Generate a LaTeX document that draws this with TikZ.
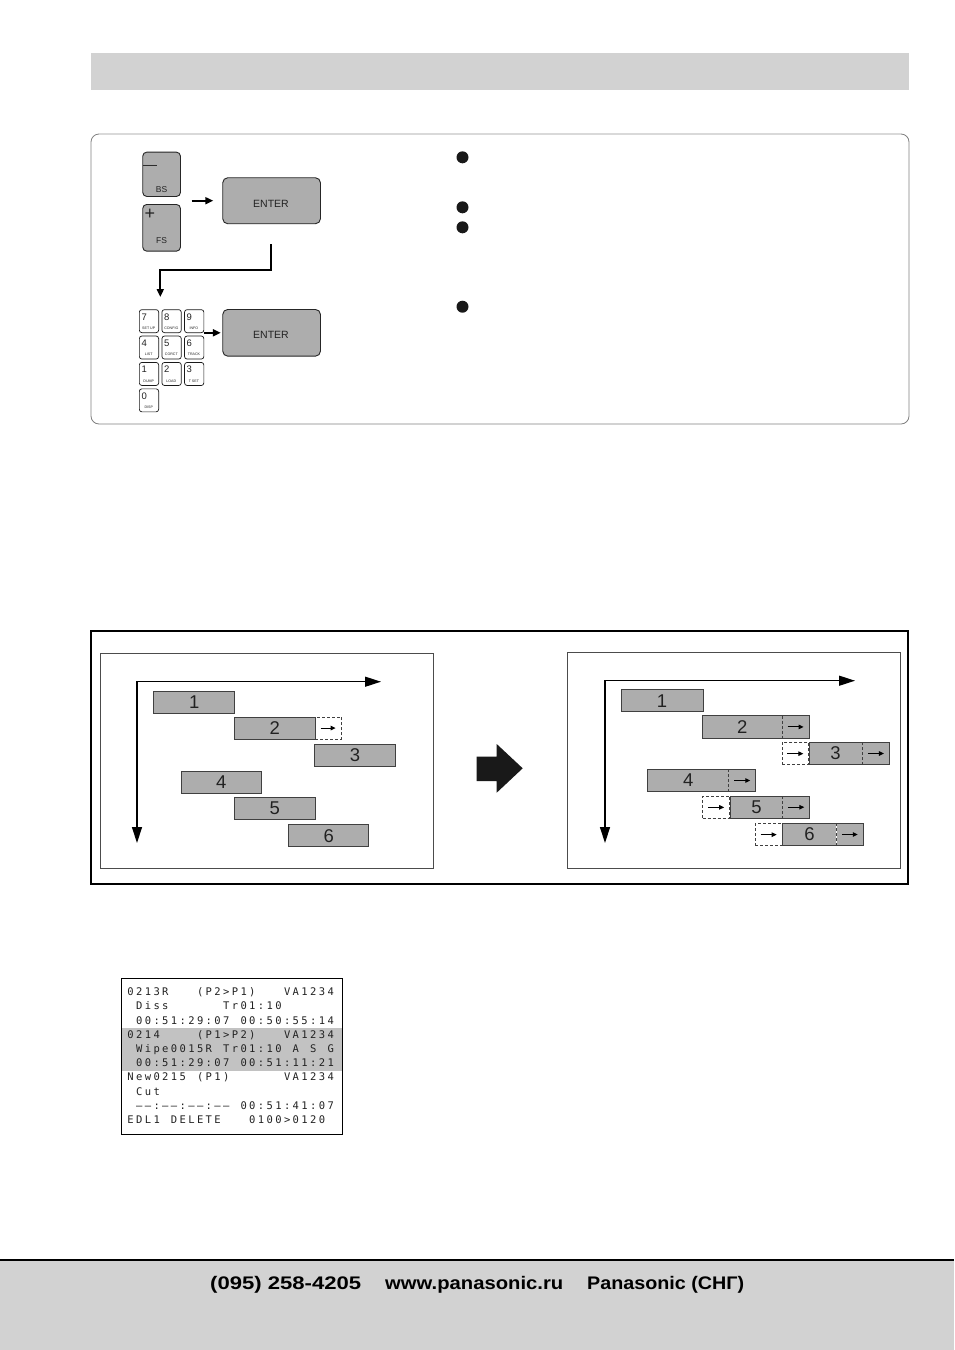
\documentclass[tikz,border=0pt]{standalone}
\usepackage{fontspec}
\usepackage{graphicx}
\setmainfont{Liberation Sans}
\newfontfamily\lcdfont[LetterSpace=22.7]{DejaVu Sans Mono}
\usetikzlibrary{arrows.meta}
\definecolor{hdrgray}{HTML}{D2D2D2}
\definecolor{halfgray}{HTML}{ADADAD}
\definecolor{bandgray}{HTML}{C2C2C2}
\definecolor{inkgray}{HTML}{222222}
\tikzset{
  gkey/.style={draw=black!85, fill=halfgray, rounded corners=4pt, line width=0.9pt, anchor=north west, inner sep=0pt},
  nkey/.style={draw=black!90, fill=white, rounded corners=2.5pt, line width=0.7pt, anchor=north west, inner sep=0pt, minimum width=19.3pt, minimum height=23pt},
  keynum/.style={anchor=base west, inner sep=0pt, font=\fontsize{9.5}{9.5}\selectfont, text=inkgray},
  keysub/.style={anchor=center, inner sep=0pt, font=\fontsize{3.6}{4}\selectfont, text=inkgray},
  keytxt/.style={anchor=center, inner sep=0pt, text=inkgray},
  karrow/.style={line width=1.8pt, -{Triangle[length=8pt,width=7pt]}},
  kline/.style={line width=1.8pt, -{Triangle[length=8pt,width=7pt]}},
  bullet/.style={circle, fill=black!90, minimum size=12pt, inner sep=0pt},
  bar/.style={draw=black!75, fill=halfgray, line width=0.7pt, minimum height=22pt, inner sep=0pt, anchor=north west, font=\fontsize{18.5}{20}\selectfont, text=inkgray},
  barfill/.style={fill=halfgray, minimum height=22pt, inner sep=0pt, anchor=north west, font=\fontsize{18.5}{20}\selectfont, text=inkgray},
  barline/.style={draw=black!75, line width=0.7pt},
  dashline/.style={draw=black!75, line width=0.7pt, dash pattern=on 3pt off 2pt},
  dbox/.style={dashline, fill=white, minimum height=22pt, inner sep=0pt, anchor=north west},
  sarrow/.style={line width=1pt, -{Triangle[length=5pt,width=4.5pt]}},
  axisline/.style={line width=1.3pt, arrows={Triangle[length=16pt,width=10pt]-Triangle[length=16pt,width=10pt]}},
  lcd/.style={anchor=base west, inner sep=0pt, font=\lcdfont\fontsize{10.5}{10.5}\selectfont, text=inkgray},
  foot/.style={anchor=base west, inner sep=0pt},
}
\newcommand\lcdtxt[4]{\node[lcd] (#1) at ({127.2+8.7*#3},{995.7+14.2*#2}) {#4};}
\begin{document}
\begin{tikzpicture}[x=1pt,y=-1pt]
\path[use as bounding box, fill=white] (0,0) rectangle (954,1350);

% header band
\fill[hdrgray] (91,53) rectangle (909,90);

% ---------- panel 1 ----------
\draw[black!50, line width=0.8pt, rounded corners=8pt] (91,134) rectangle (909,424);
\draw[black!15, line width=1.6pt] (99,134) -- (901,134);

\node[gkey, minimum width=37.7pt, minimum height=44.3pt] (bs) at (142.3,151.7) {};
\node[keytxt, font=\fontsize{14}{14}\selectfont] (bsm) at (150,167.5) {—};
\node[keytxt, font=\fontsize{8.5}{9}\selectfont] (bsl) at (161.5,190) {BS};
\node[gkey, minimum width=37.7pt, minimum height=46.7pt] (fs) at (142.3,204) {};
\node[keytxt, font=\fontsize{18}{18}\selectfont] (fsp) at (149.8,214) {+};
\node[keytxt, font=\fontsize{8.5}{9}\selectfont] (fsl) at (161.5,241) {FS};

\node[gkey, rounded corners=5pt, minimum width=97.7pt, minimum height=46pt] (ent1) at (222.3,177.3) {};
\node[keytxt, font=\fontsize{10.5}{10.5}\selectfont] (ent1t) at (271,203.5) {ENTER};
\node[gkey, rounded corners=5pt, minimum width=97.7pt, minimum height=46.7pt] (ent2) at (222.3,309) {};
\node[keytxt, font=\fontsize{10.5}{10.5}\selectfont] (ent2t) at (271,335) {ENTER};

\coordinate (a1s) at (191.7,200.7);
\draw[karrow, shorten >=9pt] (a1s) -- (a1s -| ent1.west);

\coordinate (c1) at (271,244.3);
\coordinate (c2) at (160.3,270);
\coordinate (c3) at (160.3,297);
\draw[kline] (c1) |- (c2) -- (c3);

\foreach \n/\lab/\c/\r in {7/SET UP/0/0, 8/CONFIG/1/0, 9/INFO/2/0, 4/LIST/0/1, 5/CORCT/1/1, 6/TRACK/2/1, 1/DUMP/0/2, 2/LOAD/1/2, 3/T SET/2/2, 0/DISP/0/3} {
  \node[nkey] (k\n) at ({139+\c*22.6},{309.3+\r*26.4}) {};
  \node[keynum] (k\n n) at ({141.3+\c*22.6},{320+\r*26.4}) {\n};
  \node[keysub] (k\n s) at ({148.7+\c*22.6},{328.3+\r*26.4}) {\lab};
}
\draw[karrow, shorten >=1.5pt] (k9.east |- ent2.west) -- (ent2.west);

\node[bullet] (b1) at (462.5,157.3) {};
\node[bullet] (b2) at (462.5,207.3) {};
\node[bullet] (b3) at (462.5,227.3) {};
\node[bullet] (b4) at (462.5,306.7) {};

% ---------- panel 2 ----------
\draw[line width=1.1pt] (91,631) rectangle (908,884);
\draw[black!70, line width=0.8pt] (100,653) rectangle (433,868);
\draw[black!70, line width=0.8pt] (567,652) rectangle (900,868);

% left timeline
\coordinate (LC) at (137,681.7);
\coordinate (LH) at (381,681.7);
\coordinate (LV) at (137,843);
\draw[axisline] (LH) -- (LC) -- (LV);

\node[bar, minimum width=81pt] (L1) at (153.3,690.5) {1};
\node[dbox, minimum width=26.3pt] (L2d) at (314.7,716.7) {};
\node[bar, minimum width=80.7pt] (L2) at (234,716.7) {2};
\draw[sarrow] ([xshift=-7.5pt]L2d.center) -- ([xshift=7.5pt]L2d.center);
\node[bar, minimum width=80.7pt] (L3) at (314.3,743.7) {3};
\node[bar, minimum width=80.6pt] (L4) at (180.7,770.7) {4};
\node[bar, minimum width=80.7pt] (L5) at (234,797.3) {5};
\node[bar, minimum width=80pt] (L6) at (288.3,824.3) {6};

% big arrow
\fill[black!90] (476.7,756.7) -- (496.7,756.7) -- (496.7,744) -- (522.7,768.3) -- (496.7,792.7) -- (496.7,781) -- (476.7,781) -- cycle;

% right timeline
\coordinate (RC) at (605,680.7);
\coordinate (RH) at (855,680.7);
\coordinate (RV) at (605,843);
\draw[axisline] (RH) -- (RC) -- (RV);

\node[bar, minimum width=82pt] (R1) at (620.7,689.3) {1};

\node[barfill, minimum width=79.4pt] (R2) at (702.3,715.7) {2};
\node[barfill, minimum width=26.6pt] (R2e) at (R2.north east) {};
\draw[barline] (R2.north west) rectangle (R2e.south east);
\draw[dashline] (R2.north east) -- (R2.south east);
\draw[sarrow] ([xshift=-8pt]R2e.center) -- ([xshift=8pt]R2e.center);

\node[dbox, minimum width=26.6pt] (R3d) at (781.7,742.3) {};
\node[barfill, minimum width=52.7pt] (R3) at (R3d.north east) {3};
\node[barfill, minimum width=27.3pt] (R3e) at (R3.north east) {};
\draw[barline] (R3.north west) rectangle (R3e.south east);
\draw[dashline] (R3.north east) -- (R3.south east);
\draw[sarrow] ([xshift=-8pt]R3d.center) -- ([xshift=8pt]R3d.center);
\draw[sarrow] ([xshift=-8pt]R3e.center) -- ([xshift=8pt]R3e.center);

\node[barfill, minimum width=80.6pt] (R4) at (647.7,769.3) {4};
\node[barfill, minimum width=26.7pt] (R4e) at (R4.north east) {};
\draw[barline] (R4.north west) rectangle (R4e.south east);
\draw[dashline] (R4.north east) -- (R4.south east);
\draw[sarrow] ([xshift=-8pt]R4e.center) -- ([xshift=8pt]R4e.center);

\node[dbox, minimum width=27pt] (R5d) at (702.3,796) {};
\node[barfill, minimum width=52.4pt] (R5) at (R5d.north east) {5};
\node[barfill, minimum width=26.6pt] (R5e) at (R5.north east) {};
\draw[barline] (R5.north west) rectangle (R5e.south east);
\draw[dashline] (R5.north east) -- (R5.south east);
\draw[sarrow] ([xshift=-8pt]R5d.center) -- ([xshift=8pt]R5d.center);
\draw[sarrow] ([xshift=-8pt]R5e.center) -- ([xshift=8pt]R5e.center);

\node[dbox, minimum width=26.7pt] (R6d) at (755,823.3) {};
\node[barfill, minimum width=53.6pt] (R6) at (R6d.north east) {6};
\node[barfill, minimum width=26.4pt] (R6e) at (R6.north east) {};
\draw[barline] (R6.north west) rectangle (R6e.south east);
\draw[dashline] (R6.north east) -- (R6.south east);
\draw[sarrow] ([xshift=-8pt]R6d.center) -- ([xshift=8pt]R6d.center);
\draw[sarrow] ([xshift=-8pt]R6e.center) -- ([xshift=8pt]R6e.center);

% ---------- LCD ----------
\fill[bandgray] (121.5,1027.5) rectangle (341.5,1070.5);
\draw[line width=0.9pt] (121,978) rectangle (342,1134);
\lcdtxt{t0a}{0}{0}{0213R}
\lcdtxt{t0b}{0}{8}{(P2>P1)}
\lcdtxt{t0c}{0}{18}{VA1234}
\lcdtxt{t1a}{1}{1}{Diss}
\lcdtxt{t1b}{1}{11}{Tr01:10}
\lcdtxt{t2a}{2}{1}{00:51:29:07}
\lcdtxt{t2b}{2}{13}{00:50:55:14}
\lcdtxt{t3a}{3}{0}{0214}
\lcdtxt{t3b}{3}{8}{(P1>P2)}
\lcdtxt{t3c}{3}{18}{VA1234}
\lcdtxt{t4a}{4}{1}{Wipe0015R}
\lcdtxt{t4b}{4}{11}{Tr01:10}
\lcdtxt{t4c}{4}{19}{A}
\lcdtxt{t4d}{4}{21}{S}
\lcdtxt{t4e}{4}{23}{G}
\lcdtxt{t5a}{5}{1}{00:51:29:07}
\lcdtxt{t5b}{5}{13}{00:51:11:21}
\lcdtxt{t6a}{6}{0}{New0215}
\lcdtxt{t6b}{6}{8}{(P1)}
\lcdtxt{t6c}{6}{18}{VA1234}
\lcdtxt{t7a}{7}{1}{Cut}
\lcdtxt{t8a}{8}{1}{––:––:––:––}
\lcdtxt{t8b}{8}{13}{00:51:41:07}
\lcdtxt{t9a}{9}{0}{EDL1}
\lcdtxt{t9b}{9}{5}{DELETE}
\lcdtxt{t9c}{9}{14}{0100>0120}

% ---------- footer ----------
\fill[hdrgray] (0,1261) rectangle (954,1350);
\draw[line width=2pt] (0,1260) -- (954,1260);
\node[foot] (f1) at (210,1289) {\resizebox{151pt}{\height}{\fontsize{18.2}{20}\selectfont\bfseries (095) 258-4205}};
\node[foot] (f2) at (385,1289) {\resizebox{178pt}{\height}{\fontsize{18.2}{20}\selectfont\bfseries www.panasonic.ru}};
\node[foot] (f3) at (587,1289) {\resizebox{157pt}{\height}{\fontsize{18.2}{20}\selectfont\bfseries Panasonic (СНГ)}};
\end{tikzpicture}
\end{document}
